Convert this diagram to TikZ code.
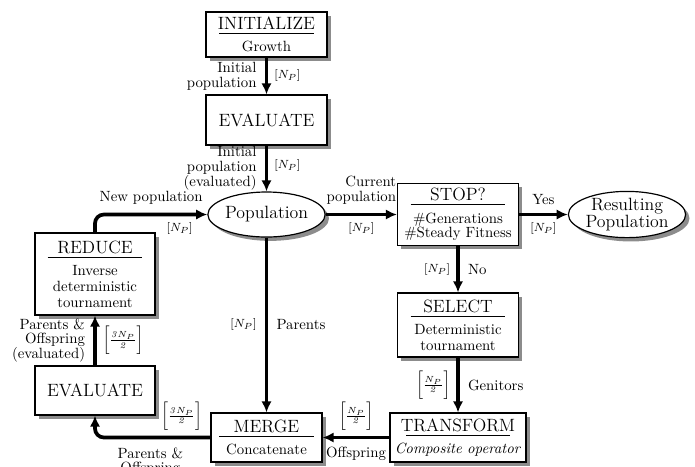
\documentclass[tikz,border=0pt]{standalone}
\usepackage{amsmath}
\usepackage{array}
\usetikzlibrary{shapes.geometric,shadows,arrows.meta}
\setlength\arrayrulewidth{0.6pt}
\newcommand\ttl[2][64pt]{\begin{tabular}[b]{@{}c@{}}\makebox[#1]{\large #2}\\[-1pt]\hline\end{tabular}}
\newcommand\halfnp{$\bigg[\frac{N_P}{\mathit{2}}\bigg]$}
\newcommand\tnp{$\bigg[\frac{\mathit{3}N_P}{\mathit{2}}\bigg]$}
\tikzset{
  sz/.style 2 args={minimum width=#1*0.675pt, minimum height=#2*0.675pt},
  blk/.style={draw, line width=0.8pt, fill=white, align=center, inner sep=0pt,
    drop shadow={shadow xshift=2.6pt, shadow yshift=-2.6pt, fill=black!60, opacity=0.75}},
  ell/.style={blk, ellipse, font=\large},
  flow/.style={line width=2.5pt, -{Latex[length=7.5pt,width=7pt]}},
  lbl/.style={font=\normalsize, inner sep=1.5pt, align=center},
  num/.style={font=\footnotesize, inner sep=1.5pt},
}
\begin{document}
\begin{tikzpicture}[x=0.675pt, y=-0.675pt]
\useasboundingbox (0,0) rectangle (695,466);

\node[blk, sz={121}{45}] (init) at (266.5,34.5) {\ttl{INITIALIZE}\\Growth};
\node[blk, sz={121}{50}, font=\large] (eval1) at (266.5,120) {EVALUATE};
\node[ell, sz={114}{45}] (pop) at (266.5,214.5) {Population};
\node[blk, sz={121}{62}] (stop) at (458,214.5) {\ttl{STOP?}\\\#Generations\\[-2pt]\#Steady Fitness};
\node[ell, sz={116}{45}] (res) at (627,214.5) {Resulting\\[-2.6pt]Population};
\node[blk, sz={120}{82}] (reduce) at (95,274) {\ttl{REDUCE}\\Inverse\\[-1.5pt]deterministic\\[-1.5pt]tournament};
\node[blk, sz={120}{49}, font=\large] (eval2) at (95,390.5) {EVALUATE};
\node[blk, sz={111}{49}] (merge) at (266.5,437.5) {\ttl{MERGE}\\Concatenate};
\node[blk, sz={121}{64}] (select) at (458,325) {\ttl{SELECT}\\Deterministic\\[-1.5pt]tournament};
\node[blk, sz={136}{49}] (transform) at (458,437.5) {\ttl[70pt]{TRANSFORM}\\\textit{Composite operator}};

\draw[flow] (init) -- node[lbl, left=4pt, align=right]{Initial\\[-2pt]population} node[num, right=2.5pt]{$[N_P]$} (eval1);
\draw[flow] (eval1) -- node[lbl, left=4pt, align=right]{Initial\\[-2pt]population\\[-2pt](evaluated)} node[num, right=2.5pt, yshift=2pt]{$[N_P]$} (pop);
\draw[flow] (pop) -- node[lbl, above=4pt, align=right]{Current\\[-2pt]population} node[num, below=3pt]{$[N_P]$} (stop);
\draw[flow] (stop) -- node[lbl, above=4pt]{Yes} node[num, below=3pt]{$[N_P]$} (res);
\draw[flow] (stop) -- node[num, left=2.5pt]{$[N_P]$} node[lbl, right=4pt]{No} (select);
\draw[flow] (select) -- node[num, left=2.5pt]{\halfnp} node[lbl, right=4pt]{Genitors} (transform);
\draw[flow] (transform) -- node[num, above=2pt]{\halfnp} node[lbl, below=4pt]{Offspring} (merge);
\draw[flow] (pop) -- node[num, left=4pt]{$[N_P]$} node[lbl, right=4pt]{Parents} (merge);
\draw[flow, rounded corners=6pt] (merge.west) -| node[num, pos=0.125, above=2pt]{\tnp} node[lbl, pos=0.26, below=4pt]{Parents \&\\[-2pt]Offspring} (eval2.south);
\draw[flow] (eval2) -- node[lbl, left=4pt, align=right]{Parents \&\\[-2pt]Offspring\\[-2pt](evaluated)} node[num, right=2.5pt]{\tnp} (reduce);
\draw[flow, rounded corners=6pt] (reduce.north) |- node[lbl, pos=0.75, above=4pt]{New population} node[num, pos=0.877, below=3pt]{$[N_P]$} (pop.west);
\end{tikzpicture}
\end{document}
